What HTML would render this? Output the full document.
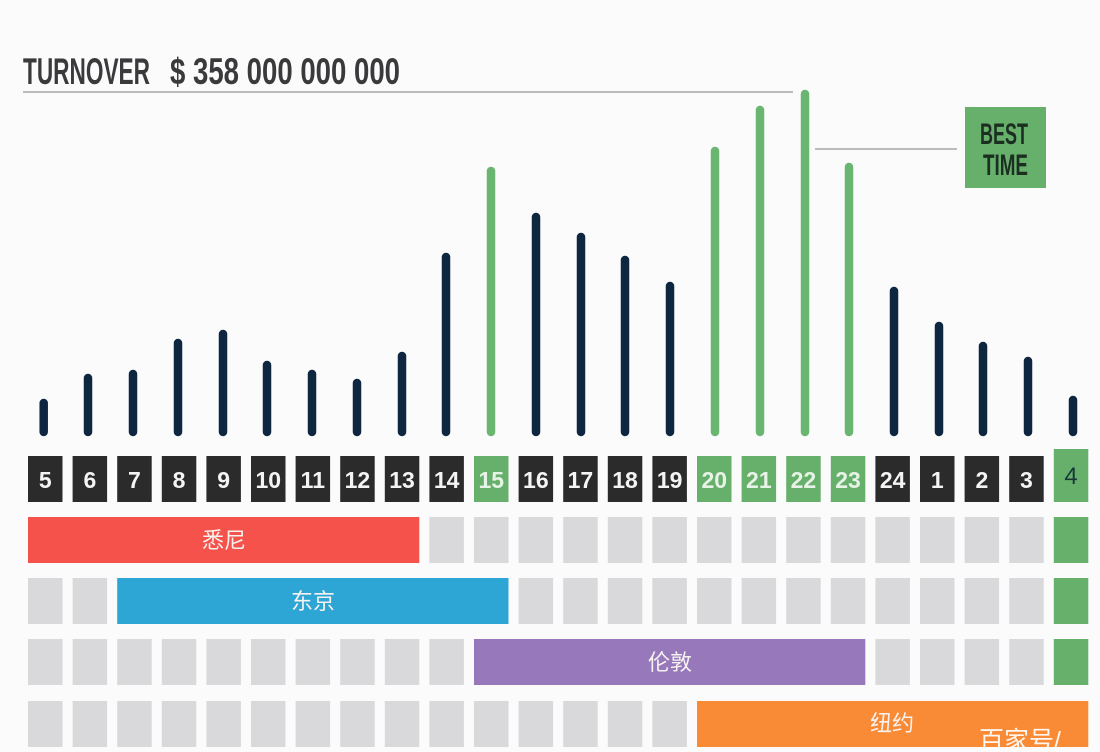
<!DOCTYPE html>
<html>
<head>
<meta charset="utf-8">
<style>
  html,body{margin:0;padding:0;background:#fbfbfc;}
  svg{display:block;}
  .num{font-family:"Liberation Sans",sans-serif;font-weight:bold;font-size:23px;fill:#f4f4f4;text-anchor:middle;}
  .cjk{font-family:"Liberation Sans","Noto Sans CJK SC",sans-serif;font-size:22px;fill:#f7f2f0;text-anchor:middle;}
</style>
</head>
<body>
<svg width="1100" height="752" viewBox="0 0 1100 752" xmlns="http://www.w3.org/2000/svg">
  <defs>
    <clipPath id="wm"><rect x="697" y="701" width="391.3" height="51"/></clipPath>
  </defs>
  <rect x="0" y="0" width="1100" height="752" fill="#fbfbfc"/>

  <!-- Title -->
  <text x="23" y="84" font-family="Liberation Sans, sans-serif" font-weight="bold" font-size="37" fill="#3a3a3c" textLength="127" lengthAdjust="spacingAndGlyphs">TURNOVER</text>
  <text x="170" y="84" font-family="Liberation Sans, sans-serif" font-weight="bold" font-size="37" fill="#3a3a3c" textLength="230" lengthAdjust="spacingAndGlyphs">$ 358 000 000 000</text>
  <line x1="23" y1="92" x2="793" y2="92" stroke="#a6a6a8" stroke-width="1.6"/>

  <!-- Best time -->
  <line x1="815" y1="149" x2="957" y2="149" stroke="#a6a6a8" stroke-width="1.6"/>
  <rect x="965" y="107" width="81" height="81" fill="#66b06b"/>
  <text x="980" y="144" font-family="Liberation Sans, sans-serif" font-weight="bold" font-size="30" fill="#1c2e22" textLength="48" lengthAdjust="spacingAndGlyphs">BEST</text>
  <text x="983" y="175" font-family="Liberation Sans, sans-serif" font-weight="bold" font-size="30" fill="#1c2e22" textLength="45" lengthAdjust="spacingAndGlyphs">TIME</text>

  <!-- Bars -->
  <g stroke-linecap="round" stroke-width="8.5">
    <line x1="43.7" y1="403" x2="43.7" y2="432" stroke="#0f2640"/>
    <line x1="88" y1="378" x2="88" y2="432" stroke="#0f2640"/>
    <line x1="133" y1="374" x2="133" y2="432" stroke="#0f2640"/>
    <line x1="178" y1="343" x2="178" y2="432" stroke="#0f2640"/>
    <line x1="223" y1="334" x2="223" y2="432" stroke="#0f2640"/>
    <line x1="267" y1="365" x2="267" y2="432" stroke="#0f2640"/>
    <line x1="312" y1="374" x2="312" y2="432" stroke="#0f2640"/>
    <line x1="357" y1="383" x2="357" y2="432" stroke="#0f2640"/>
    <line x1="402" y1="356" x2="402" y2="432" stroke="#0f2640"/>
    <line x1="446" y1="257" x2="446" y2="432" stroke="#0f2640"/>
    <line x1="491" y1="171" x2="491" y2="432" stroke="#6ab56f"/>
    <line x1="536" y1="217" x2="536" y2="432" stroke="#0f2640"/>
    <line x1="581" y1="237" x2="581" y2="432" stroke="#0f2640"/>
    <line x1="625" y1="260" x2="625" y2="432" stroke="#0f2640"/>
    <line x1="670" y1="286" x2="670" y2="432" stroke="#0f2640"/>
    <line x1="715" y1="151" x2="715" y2="432" stroke="#6ab56f"/>
    <line x1="760" y1="110" x2="760" y2="432" stroke="#6ab56f"/>
    <line x1="805" y1="94" x2="805" y2="432" stroke="#6ab56f"/>
    <line x1="849" y1="167" x2="849" y2="432" stroke="#6ab56f"/>
    <line x1="894" y1="291" x2="894" y2="432" stroke="#0f2640"/>
    <line x1="939" y1="326" x2="939" y2="432" stroke="#0f2640"/>
    <line x1="983" y1="346" x2="983" y2="432" stroke="#0f2640"/>
    <line x1="1028" y1="361" x2="1028" y2="432" stroke="#0f2640"/>
    <line x1="1073" y1="400" x2="1073" y2="432" stroke="#0f2640"/>
  </g>

  <!-- Hour boxes -->
  <g>
    <rect x="28" y="456" width="34.5" height="46" fill="#2b2b2b"/>
    <rect x="72.6" y="456" width="34.5" height="46" fill="#2b2b2b"/>
    <rect x="117.2" y="456" width="34.5" height="46" fill="#2b2b2b"/>
    <rect x="161.8" y="456" width="34.5" height="46" fill="#2b2b2b"/>
    <rect x="206.4" y="456" width="34.5" height="46" fill="#2b2b2b"/>
    <rect x="251" y="456" width="34.5" height="46" fill="#2b2b2b"/>
    <rect x="295.6" y="456" width="34.5" height="46" fill="#2b2b2b"/>
    <rect x="340.2" y="456" width="34.5" height="46" fill="#2b2b2b"/>
    <rect x="384.8" y="456" width="34.5" height="46" fill="#2b2b2b"/>
    <rect x="429.4" y="456" width="34.5" height="46" fill="#2b2b2b"/>
    <rect x="474" y="456" width="34.5" height="46" fill="#66b06b"/>
    <rect x="518.6" y="456" width="34.5" height="46" fill="#2b2b2b"/>
    <rect x="563.2" y="456" width="34.5" height="46" fill="#2b2b2b"/>
    <rect x="607.8" y="456" width="34.5" height="46" fill="#2b2b2b"/>
    <rect x="652.4" y="456" width="34.5" height="46" fill="#2b2b2b"/>
    <rect x="697" y="456" width="34.5" height="46" fill="#66b06b"/>
    <rect x="741.6" y="456" width="34.5" height="46" fill="#66b06b"/>
    <rect x="786.2" y="456" width="34.5" height="46" fill="#66b06b"/>
    <rect x="830.8" y="456" width="34.5" height="46" fill="#66b06b"/>
    <rect x="875.4" y="456" width="34.5" height="46" fill="#2b2b2b"/>
    <rect x="920" y="456" width="34.5" height="46" fill="#2b2b2b"/>
    <rect x="964.6" y="456" width="34.5" height="46" fill="#2b2b2b"/>
    <rect x="1009.2" y="456" width="34.5" height="46" fill="#2b2b2b"/>
    <rect x="1053.8" y="449" width="34.5" height="53" fill="#66b06b"/>
  </g>
  <g>
    <text class="num" x="45.25" y="488">5</text>
    <text class="num" x="89.85" y="488">6</text>
    <text class="num" x="134.45" y="488">7</text>
    <text class="num" x="179.05" y="488">8</text>
    <text class="num" x="223.65" y="488">9</text>
    <text class="num" x="268.25" y="488">10</text>
    <text class="num" x="312.85" y="488">11</text>
    <text class="num" x="357.45" y="488">12</text>
    <text class="num" x="402.05" y="488">13</text>
    <text class="num" x="446.65" y="488">14</text>
    <text class="num" x="491.25" y="488" style="fill:#e6f3e6">15</text>
    <text class="num" x="535.85" y="488">16</text>
    <text class="num" x="580.45" y="488">17</text>
    <text class="num" x="625.05" y="488">18</text>
    <text class="num" x="669.65" y="488">19</text>
    <text class="num" x="714.25" y="488" style="fill:#e6f3e6">20</text>
    <text class="num" x="758.85" y="488" style="fill:#e6f3e6">21</text>
    <text class="num" x="803.45" y="488" style="fill:#e6f3e6">22</text>
    <text class="num" x="848.05" y="488" style="fill:#e6f3e6">23</text>
    <text class="num" x="892.65" y="488">24</text>
    <text class="num" x="937.25" y="488">1</text>
    <text class="num" x="981.85" y="488">2</text>
    <text class="num" x="1026.45" y="488">3</text>
    <text class="num" x="1071.05" y="484" style="fill:#17393a;font-weight:normal;font-size:24px">4</text>
  </g>

  <!-- Grey grid boxes (rows 1-4) -->
  <g fill="#d9d9db">
    <rect x="429.4" y="517" width="34.5" height="46"/>
    <rect x="474" y="517" width="34.5" height="46"/>
    <rect x="518.6" y="517" width="34.5" height="46"/>
    <rect x="563.2" y="517" width="34.5" height="46"/>
    <rect x="607.8" y="517" width="34.5" height="46"/>
    <rect x="652.4" y="517" width="34.5" height="46"/>
    <rect x="697" y="517" width="34.5" height="46"/>
    <rect x="741.6" y="517" width="34.5" height="46"/>
    <rect x="786.2" y="517" width="34.5" height="46"/>
    <rect x="830.8" y="517" width="34.5" height="46"/>
    <rect x="875.4" y="517" width="34.5" height="46"/>
    <rect x="920" y="517" width="34.5" height="46"/>
    <rect x="964.6" y="517" width="34.5" height="46"/>
    <rect x="1009.2" y="517" width="34.5" height="46"/>
    <rect x="28" y="578" width="34.5" height="46"/>
    <rect x="72.6" y="578" width="34.5" height="46"/>
    <rect x="518.6" y="578" width="34.5" height="46"/>
    <rect x="563.2" y="578" width="34.5" height="46"/>
    <rect x="607.8" y="578" width="34.5" height="46"/>
    <rect x="652.4" y="578" width="34.5" height="46"/>
    <rect x="697" y="578" width="34.5" height="46"/>
    <rect x="741.6" y="578" width="34.5" height="46"/>
    <rect x="786.2" y="578" width="34.5" height="46"/>
    <rect x="830.8" y="578" width="34.5" height="46"/>
    <rect x="875.4" y="578" width="34.5" height="46"/>
    <rect x="920" y="578" width="34.5" height="46"/>
    <rect x="964.6" y="578" width="34.5" height="46"/>
    <rect x="1009.2" y="578" width="34.5" height="46"/>
    <rect x="28" y="639" width="34.5" height="46"/>
    <rect x="72.6" y="639" width="34.5" height="46"/>
    <rect x="117.2" y="639" width="34.5" height="46"/>
    <rect x="161.8" y="639" width="34.5" height="46"/>
    <rect x="206.4" y="639" width="34.5" height="46"/>
    <rect x="251" y="639" width="34.5" height="46"/>
    <rect x="295.6" y="639" width="34.5" height="46"/>
    <rect x="340.2" y="639" width="34.5" height="46"/>
    <rect x="384.8" y="639" width="34.5" height="46"/>
    <rect x="429.4" y="639" width="34.5" height="46"/>
    <rect x="875.4" y="639" width="34.5" height="46"/>
    <rect x="920" y="639" width="34.5" height="46"/>
    <rect x="964.6" y="639" width="34.5" height="46"/>
    <rect x="1009.2" y="639" width="34.5" height="46"/>
    <rect x="28" y="701" width="34.5" height="46"/>
    <rect x="72.6" y="701" width="34.5" height="46"/>
    <rect x="117.2" y="701" width="34.5" height="46"/>
    <rect x="161.8" y="701" width="34.5" height="46"/>
    <rect x="206.4" y="701" width="34.5" height="46"/>
    <rect x="251" y="701" width="34.5" height="46"/>
    <rect x="295.6" y="701" width="34.5" height="46"/>
    <rect x="340.2" y="701" width="34.5" height="46"/>
    <rect x="384.8" y="701" width="34.5" height="46"/>
    <rect x="429.4" y="701" width="34.5" height="46"/>
    <rect x="474" y="701" width="34.5" height="46"/>
    <rect x="518.6" y="701" width="34.5" height="46"/>
    <rect x="563.2" y="701" width="34.5" height="46"/>
    <rect x="607.8" y="701" width="34.5" height="46"/>
    <rect x="652.4" y="701" width="34.5" height="46"/>
  </g>

  <!-- Green column 4 rows 1-3 -->
  <g fill="#66b06b">
    <rect x="1053.8" y="517" width="34.5" height="46"/>
    <rect x="1053.8" y="578" width="34.5" height="46"/>
    <rect x="1053.8" y="639" width="34.5" height="46"/>
  </g>

  <!-- Market bars -->
  <rect x="28" y="517" width="391.3" height="46" fill="#f5524b"/>
  <rect x="117.2" y="578" width="391.3" height="46" fill="#2ea6d5"/>
  <rect x="474" y="639" width="391.3" height="46" fill="#9778bb"/>
  <rect x="697" y="701" width="391.3" height="46" fill="#f98b36"/>

  <text class="cjk" x="224" y="548">悉尼</text>
  <text class="cjk" x="313" y="609">东京</text>
  <text class="cjk" x="670" y="670">伦敦</text>
  <text class="cjk" x="892" y="731">纽约</text>

  <!-- Watermark -->
  <g clip-path="url(#wm)">
    <text x="979" y="749" font-family="Liberation Sans, Noto Sans CJK SC, sans-serif" font-size="25" fill="#ffffff" fill-opacity="0.92">百家号/</text>
  </g>
</svg>
</body>
</html>
